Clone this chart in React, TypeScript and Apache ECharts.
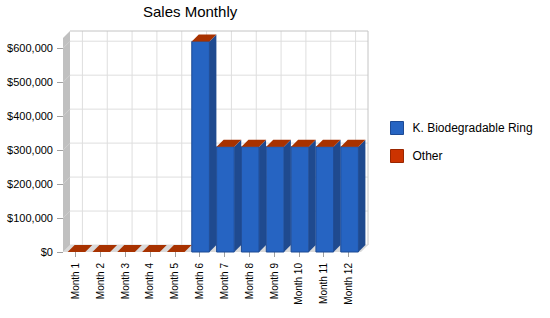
import React, { useEffect, useRef } from 'react';
import * as echarts from 'echarts';

const categories = ['Month 1', 'Month 2', 'Month 3', 'Month 4', 'Month 5', 'Month 6', 'Month 7', 'Month 8', 'Month 9', 'Month 10', 'Month 11', 'Month 12'];
const ringValues = [0, 0, 0, 0, 0, 620000, 310000, 310000, 310000, 310000, 310000, 310000];
const otherValues = [0, 0, 0, 0, 0, 0, 0, 0, 0, 0, 0, 0];
const yTicks = [0, 100000, 200000, 300000, 400000, 500000, 600000];
const yMax = 630000;
const seriesNames = ['K. Biodegradable Ring', 'Other'];

const DX = 7;
const DY = -7;
const BAR_RATIO = 0.71;

const BLUE = '#2664c2';
const BLUE_SIDE = '#1f4a8f';
const BLUE_EDGE = '#1d4a94';
const ORANGE = '#cc3300';
const ORANGE_SIDE = '#8f2600';
const ORANGE_TOP = '#a83200';

export default function App() {
  const ref = useRef<HTMLDivElement>(null);

  useEffect(() => {
    if (!ref.current) return;
    const chart = echarts.init(ref.current, null, { renderer: 'svg' });

    const bgRender = (params: any, api: any) => {
      const band = api.size([1, 0])[0];
      const x0 = api.coord([0, 0])[0] - band / 2;
      const x1 = api.coord([categories.length - 1, 0])[0] + band / 2;
      const yb = api.coord([0, 0])[1];
      const yt = api.coord([0, yMax])[1];
      const children: any[] = [];
      children.push({
        type: 'rect',
        shape: { x: x0 + DX, y: yt + DY, width: x1 - x0, height: yb - yt },
        style: { fill: '#ffffff' },
      });
      yTicks.forEach((v) => {
        const y = api.coord([0, v])[1];
        children.push({
          type: 'line',
          shape: { x1: x0 + DX, y1: y + DY, x2: x1 + DX, y2: y + DY },
          style: { stroke: '#dedede', lineWidth: 1 },
        });
      });
      categories.forEach((_, i) => {
        const cx = api.coord([i, 0])[0];
        children.push({
          type: 'line',
          shape: { x1: cx + DX, y1: yt + DY, x2: cx + DX, y2: yb + DY },
          style: { stroke: '#dedede', lineWidth: 1 },
        });
      });
      children.push({
        type: 'polyline',
        shape: {
          points: [
            [x0 + DX, yt + DY],
            [x1 + DX, yt + DY],
            [x1 + DX, yb + DY],
          ],
        },
        style: { stroke: '#c4c4c4', lineWidth: 1, fill: 'none' },
      });
      children.push({
        type: 'polygon',
        shape: {
          points: [
            [x0, yb],
            [x0, yt],
            [x0 + DX, yt + DY],
            [x0 + DX, yb + DY],
          ],
        },
        style: { fill: '#c0c0c0' },
      });
      yTicks.forEach((v) => {
        const y = api.coord([0, v])[1];
        children.push({
          type: 'line',
          shape: { x1: x0, y1: y, x2: x0 + DX, y2: y + DY },
          style: { stroke: '#cfcfcf', lineWidth: 1 },
        });
      });
      children.push({
        type: 'polygon',
        shape: {
          points: [
            [x0, yb],
            [x1, yb],
            [x1 + DX, yb + DY],
            [x0 + DX, yb + DY],
          ],
        },
        style: { fill: '#dadada' },
      });
      return { type: 'group', children };
    };

    const ringRender = (params: any, api: any) => {
      const i = api.value(0);
      const ring = api.value(1);
      const band = api.size([1, 0])[0];
      const w = band * BAR_RATIO;
      const [cx, yb] = api.coord([i, 0]);
      const yr = api.coord([i, ring])[1];
      const xl = cx - w / 2 + 1;
      const xr = xl + w;
      if (ring <= 0) return { type: 'group', children: [] };
      return {
        type: 'group',
        children: [
          {
            type: 'polygon',
            shape: { points: [[xr, yb], [xr, yr], [xr + DX, yr + DY], [xr + DX, yb + DY]] },
            style: { fill: BLUE_SIDE },
          },
          {
            type: 'rect',
            shape: { x: xl, y: yr, width: w, height: yb - yr },
            style: { fill: BLUE, stroke: BLUE_EDGE, lineWidth: 1 },
          },
        ],
      };
    };

    const otherRender = (params: any, api: any) => {
      const i = api.value(0);
      const ring = api.value(1);
      const other = api.value(2);
      const band = api.size([1, 0])[0];
      const w = band * BAR_RATIO;
      const cx = api.coord([i, 0])[0];
      const y1 = api.coord([i, ring])[1];
      const y2 = api.coord([i, ring + other])[1];
      const xl = cx - w / 2 + 1;
      const xr = xl + w;
      const children: any[] = [];
      if (other > 0) {
        children.push({
          type: 'polygon',
          shape: { points: [[xr, y1], [xr, y2], [xr + DX, y2 + DY], [xr + DX, y1 + DY]] },
          style: { fill: ORANGE_SIDE },
        });
        children.push({
          type: 'rect',
          shape: { x: xl, y: y2, width: w, height: y1 - y2 },
          style: { fill: ORANGE },
        });
      }
      children.push({
        type: 'polygon',
        shape: { points: [[xl, y2], [xr, y2], [xr + DX, y2 + DY], [xl + DX, y2 + DY]] },
        style: { fill: ORANGE_TOP },
      });
      return { type: 'group', children };
    };

    const barData = categories.map((_, i) => [i, ringValues[i], otherValues[i]]);

    chart.setOption({
      animation: false,
      backgroundColor: '#ffffff',
      textStyle: { fontFamily: 'Arial, "Liberation Sans", sans-serif' },
      title: {
        text: 'Sales Monthly',
        left: 143,
        top: 4,
        padding: 0,
        textStyle: { fontSize: 15, fontWeight: 'normal', color: '#000000', fontFamily: 'Arial, "Liberation Sans", sans-serif' },
      },
      legend: {
        orient: 'vertical',
        left: 390,
        top: 121,
        padding: 0,
        itemWidth: 13,
        itemHeight: 13,
        itemGap: 14,
        icon: 'rect',
        data: [
          { name: seriesNames[0], itemStyle: { color: BLUE, borderColor: BLUE_EDGE, borderWidth: 1 } },
          { name: seriesNames[1], itemStyle: { color: ORANGE, borderColor: '#9a2600', borderWidth: 1 } },
        ],
        textStyle: { fontSize: 12, color: '#000000', padding: [0, 0, 0, 4], fontFamily: 'Arial, "Liberation Sans", sans-serif' },
      },
      grid: { left: 63, right: 189, top: 38, bottom: 66, containLabel: false, outerBoundsMode: 'none' },
      xAxis: {
        type: 'category',
        data: categories,
        axisLine: { show: false },
        axisTick: { show: true, alignWithLabel: true, length: 5, lineStyle: { color: '#a0a0a0' } },
        axisLabel: { rotate: 90, fontSize: 10, margin: 11, color: '#000000', interval: 0 },
        splitLine: { show: false },
      },
      yAxis: {
        type: 'value',
        min: 0,
        max: yMax,
        interval: 100000,
        axisLine: { show: false },
        axisTick: { show: true, length: 6, lineStyle: { color: '#a0a0a0' }, customValues: yTicks },
        axisLabel: {
          fontSize: 11,
          margin: 10,
          color: '#000000',
          customValues: yTicks,
          formatter: (v: number) => '$' + Number(v).toLocaleString('en-US'),
        },
        splitLine: { show: false },
      },
      series: [
        {
          type: 'custom',
          name: '__bg',
          renderItem: bgRender,
          data: [[0, 0]],
          encode: { x: 0, y: 1 },
          z: 1,
          silent: true,
        },
        {
          type: 'custom',
          name: seriesNames[0],
          renderItem: ringRender,
          data: barData,
          encode: { x: 0, y: 1 },
          itemStyle: { color: BLUE },
          z: 2,
        },
        {
          type: 'custom',
          name: seriesNames[1],
          renderItem: otherRender,
          data: barData,
          encode: { x: 0, y: 1 },
          itemStyle: { color: ORANGE },
          z: 3,
        },
      ],
    });

    return () => chart.dispose();
  }, []);

  return (
    <div
      ref={ref}
      style={{ position: 'fixed', left: 0, top: 0, width: 550, height: 318, background: '#ffffff' }}
    />
  );
}
